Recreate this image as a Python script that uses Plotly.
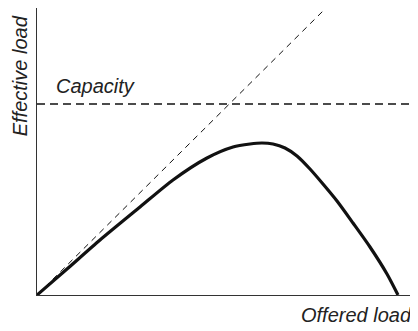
import plotly.graph_objects as go

# Values (arbitrary load units)
offered = [0, 30, 63, 103, 136, 170, 196, 213, 225, 236, 248, 260, 273, 286, 300, 316, 333, 350, 361]
effective = [0, 26, 55, 88, 115, 137, 148, 151, 152, 151, 147, 139, 126, 111, 94, 72, 48, 21, 0]
ideal_x = [0, 287]
ideal_y = [0, 285]
capacity = 191
x_max = 380
y_max = 287

fig = go.Figure()
fig.add_trace(go.Scatter(x=ideal_x, y=ideal_y, mode="lines",
                         line=dict(color="#111", width=1, dash="6px,5px"),
                         hoverinfo="skip"))
fig.add_trace(go.Scatter(x=[0, x_max], y=[capacity, capacity], mode="lines",
                         line=dict(color="#111", width=1.3, dash="8px,5px"),
                         hoverinfo="skip"))
fig.add_trace(go.Scatter(x=offered, y=effective, mode="lines",
                         line=dict(color="#111", width=3.2, shape="spline", smoothing=0.7),
                         hoverinfo="skip"))

font = dict(family="Liberation Sans, Arial, sans-serif", size=20, color="#222")
fig.add_annotation(text="<i>Capacity</i>", x=17, y=capacity + 18, xref="x", yref="y",
                   xanchor="left", yanchor="middle", showarrow=False, font=font)
fig.add_annotation(text="<i>Offered load</i>", x=0.992, y=-0.07, xref="paper", yref="paper",
                   xanchor="right", yanchor="middle", showarrow=False, font=font)
fig.add_annotation(text="<i>Effective load</i>", x=-0.045, y=0.983, xref="paper", yref="paper",
                   xanchor="center", yanchor="top", textangle=-90, showarrow=False, font=font)

axis = dict(showline=True, linecolor="#333", linewidth=1, showgrid=False, zeroline=False,
            showticklabels=False, ticks="")
fig.update_xaxes(range=[0, x_max], **axis)
fig.update_yaxes(range=[0, y_max], **axis)
fig.update_layout(width=418, height=331, margin=dict(l=29, r=9, t=0, b=44, autoexpand=False),
                  paper_bgcolor="white", plot_bgcolor="white", showlegend=False)
fig.write_html("out.html")
